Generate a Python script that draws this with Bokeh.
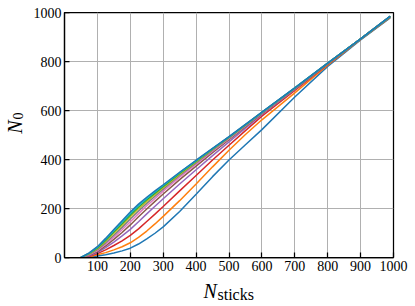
import math
from bokeh.plotting import figure
from bokeh.layouts import column, row
from bokeh.models import Range1d, FixedTicker
from bokeh.core.properties import value
from bokeh.embed import file_html
from bokeh.resources import INLINE

# ---- data ----
n_sticks = [50, 75, 100, 125, 150, 175, 200, 225, 250, 275, 300, 350, 400, 450, 500, 550, 600, 700, 800, 900, 990]

n0_line0 = [0, 2, 6, 11, 18, 27, 38, 55, 76, 99, 125, 188, 258, 330, 398, 460, 522, 655, 780, 888, 978]
n0_line1 = [0, 3, 11, 20, 31, 44, 60, 82, 108, 137, 168, 232, 300, 370, 438, 502, 562, 672, 785, 890, 980]
n0_line2 = [0, 5, 16, 31, 49, 68, 90, 117, 147, 177, 208, 272, 335, 398, 458, 518, 577, 682, 788, 891, 982]
n0_line3 = [0, 7, 20, 40, 63, 88, 115, 146, 178, 209, 240, 300, 358, 416, 472, 528, 584, 686, 790, 892, 983]
n0_line4 = [0, 9, 24, 47, 74, 102, 133, 166, 198, 229, 259, 318, 373, 428, 481, 534, 587, 688, 791, 892, 983]
n0_line5 = [0, 11, 28, 54, 83, 113, 146, 179, 211, 241, 271, 328, 381, 434, 485, 537, 589, 689, 792, 892, 984]
n0_line6 = [0, 13, 32, 60, 91, 123, 157, 190, 221, 250, 279, 335, 386, 438, 488, 539, 590, 690, 792, 892, 984]
n0_line7 = [0, 15, 36, 66, 99, 132, 166, 199, 229, 257, 285, 339, 390, 441, 490, 540, 591, 691, 792, 892, 984]
n0_line8 = [0, 17, 39, 71, 105, 139, 174, 206, 236, 263, 290, 343, 393, 443, 491, 541, 592, 691, 793, 892, 984]
n0_line9 = [0, 18, 42, 75, 110, 145, 180, 212, 241, 268, 294, 346, 395, 444, 492, 542, 592, 692, 793, 892, 984]
n0_line10 = [0, 19, 44, 78, 114, 150, 186, 218, 246, 272, 297, 348, 397, 445, 493, 543, 593, 692, 793, 892, 985]

series = [n0_line0, n0_line1, n0_line2, n0_line3, n0_line4, n0_line5,
          n0_line6, n0_line7, n0_line8, n0_line9, n0_line10]
colors = ["#1f77b4", "#ff7f0e", "#d62728", "#9467bd", "#8c564b", "#e377c2",
          "#7f7f7f", "#bcbd22", "#2ca02c", "#17becf", "#1f77b4"]

x_ticks = [100, 200, 300, 400, 500, 600, 700, 800, 900, 1000]
y_ticks = [0, 200, 400, 600, 800, 1000]

x_title_parts = ["N", "sticks"]
y_title_parts = ["N", "0"]

FONT = "Liberation Serif"

# layout sizes (pixels)
W, H = 415, 306
YLAB_W = 28
MAIN_W = W - YLAB_W
MAIN_H = 277
XLAB_H = H - MAIN_H


def blank(width, height):
    f = figure(width=width, height=height, output_backend="svg", toolbar_location=None,
               x_range=Range1d(0, width), y_range=Range1d(0, height),
               min_border=0)
    f.axis.visible = False
    f.grid.visible = False
    f.outline_line_color = None
    f.background_fill_color = "white"
    f.border_fill_color = "white"
    return f


# ---- main chart ----
p = figure(width=MAIN_W, height=MAIN_H, output_backend="svg", toolbar_location=None,
           x_range=Range1d(0, 1000), y_range=Range1d(0, 1000),
           min_border_left=64 - YLAB_W, min_border_right=22, min_border_top=12,
           min_border_bottom=MAIN_H - 257)
p.background_fill_color = "white"
p.border_fill_color = "white"
p.outline_line_color = "black"
p.outline_line_width = 1.25
p.outline_line_alpha = 1.0

for ys, c in zip(series, colors):
    p.line(n_sticks, ys, line_color=c, line_width=1.5)

p.xaxis.ticker = FixedTicker(ticks=x_ticks)
p.yaxis.ticker = FixedTicker(ticks=y_ticks)
p.xgrid.ticker = FixedTicker(ticks=x_ticks)
p.ygrid.ticker = FixedTicker(ticks=y_ticks)
p.grid.grid_line_color = "#b0b0b0"
p.grid.grid_line_width = 1

for ax in (p.xaxis[0], p.yaxis[0]):
    ax.major_tick_in = 5
    ax.major_tick_out = 0
    ax.minor_tick_line_color = None
    ax.major_tick_line_width = 1.25
    ax.major_tick_line_color = "black"
    ax.axis_line_color = "black"
    ax.axis_line_width = 1.25
    ax.major_label_text_font = FONT
    ax.major_label_text_font_size = "14px"
    ax.major_label_text_color = "black"
p.xaxis.major_label_standoff = 3
p.yaxis.major_label_standoff = 3

# ---- y title (left strip) ----
yl = blank(YLAB_W, MAIN_H)
yl.text(x=[14], y=[MAIN_H - 137], text=[y_title_parts[0]], angle=math.pi / 2,
        text_font=value(FONT), text_font_style="italic", text_font_size="20px",
        text_align="left", text_baseline="alphabetic", text_color="black")
yl.text(x=[17], y=[MAIN_H - 121], text=[y_title_parts[1]], angle=math.pi / 2,
        text_font=value(FONT), text_font_size="14px",
        text_align="left", text_baseline="alphabetic", text_color="black")

# ---- x title (bottom strip) ----
xl = blank(W, XLAB_H)
xl.text(x=[203], y=[H - 290], text=[x_title_parts[0]],
        text_font=value(FONT), text_font_style="italic", text_font_size="20px",
        text_align="left", text_baseline="alphabetic", text_color="black")
xl.text(x=[217], y=[H - 294], text=[x_title_parts[1]],
        text_font=value(FONT), text_font_size="16px",
        text_align="left", text_baseline="alphabetic", text_color="black")

layout = column(row(yl, p), xl, spacing=0)
open("out.html", "w").write(file_html(layout, INLINE))
